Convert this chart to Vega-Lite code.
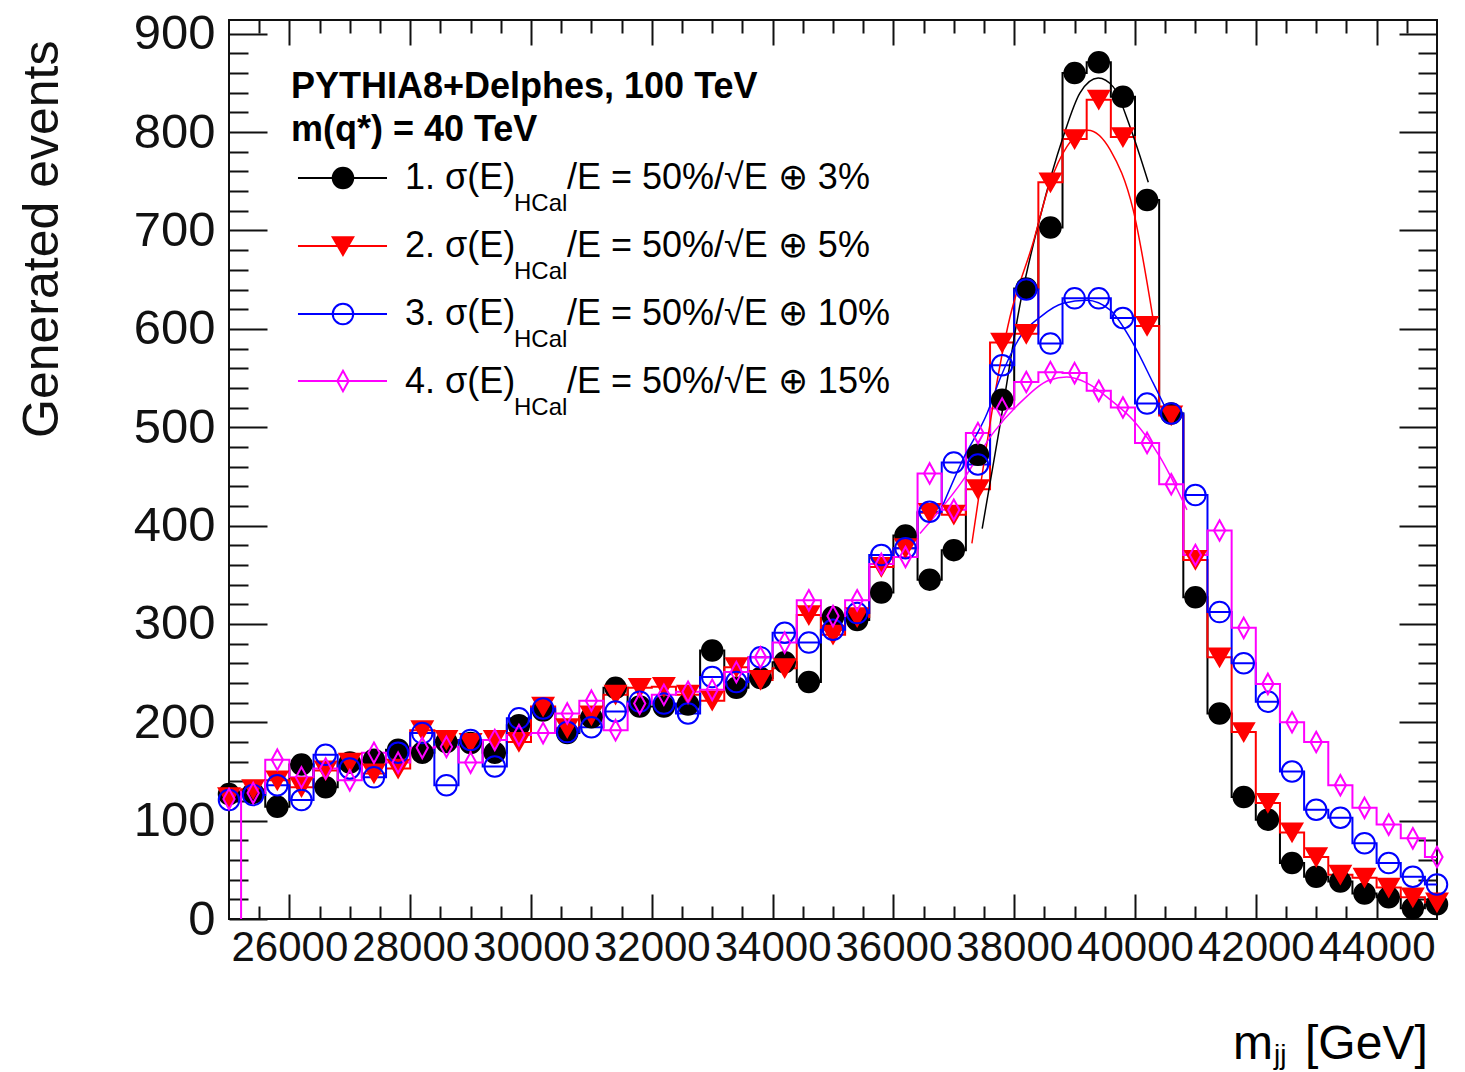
{
  "$schema": "https://vega.github.io/schema/vega-lite/v6.json",
  "width": 1208,
  "height": 899,
  "autosize": {"type": "none"},
  "padding": {"left": 229, "top": 20, "right": 28, "bottom": 153},
  "background": "white",
  "datasets": {
    "hist": [
      {"m": 25000, "h1": 127, "h2": 124, "h3": 121, "h4": 122},
      {"m": 25400, "h1": 128, "h2": 132, "h3": 126, "h4": 128},
      {"m": 25800, "h1": 114, "h2": 141, "h3": 136, "h4": 162},
      {"m": 26200, "h1": 157, "h2": 134, "h3": 121, "h4": 144},
      {"m": 26600, "h1": 134, "h2": 151, "h3": 167, "h4": 153},
      {"m": 27000, "h1": 159, "h2": 159, "h3": 153, "h4": 141},
      {"m": 27400, "h1": 162, "h2": 148, "h3": 144, "h4": 169},
      {"m": 27800, "h1": 172, "h2": 153, "h3": 169, "h4": 159},
      {"m": 28200, "h1": 169, "h2": 192, "h3": 189, "h4": 174},
      {"m": 28600, "h1": 180, "h2": 182, "h3": 136, "h4": 175},
      {"m": 29000, "h1": 179, "h2": 179, "h3": 182, "h4": 159},
      {"m": 29400, "h1": 169, "h2": 182, "h3": 155, "h4": 182},
      {"m": 29800, "h1": 197, "h2": 180, "h3": 204, "h4": 187},
      {"m": 30200, "h1": 212, "h2": 216, "h3": 214, "h4": 189},
      {"m": 30600, "h1": 189, "h2": 194, "h3": 190, "h4": 209},
      {"m": 31000, "h1": 205, "h2": 207, "h3": 195, "h4": 222},
      {"m": 31400, "h1": 235, "h2": 228, "h3": 211, "h4": 192},
      {"m": 31800, "h1": 216, "h2": 235, "h3": 221, "h4": 219},
      {"m": 32200, "h1": 216, "h2": 236, "h3": 219, "h4": 228},
      {"m": 32600, "h1": 218, "h2": 228, "h3": 209, "h4": 231},
      {"m": 33000, "h1": 273, "h2": 222, "h3": 246, "h4": 233},
      {"m": 33400, "h1": 235, "h2": 256, "h3": 241, "h4": 251},
      {"m": 33800, "h1": 245, "h2": 243, "h3": 266, "h4": 266},
      {"m": 34200, "h1": 261, "h2": 255, "h3": 291, "h4": 281},
      {"m": 34600, "h1": 241, "h2": 309, "h3": 281, "h4": 324},
      {"m": 35000, "h1": 307, "h2": 289, "h3": 294, "h4": 308},
      {"m": 35400, "h1": 304, "h2": 307, "h3": 311, "h4": 324},
      {"m": 35800, "h1": 332, "h2": 358, "h3": 370, "h4": 361},
      {"m": 36200, "h1": 390, "h2": 377, "h3": 377, "h4": 368},
      {"m": 36600, "h1": 345, "h2": 413, "h3": 414, "h4": 453},
      {"m": 37000, "h1": 375, "h2": 411, "h3": 464, "h4": 416},
      {"m": 37400, "h1": 472, "h2": 437, "h3": 462, "h4": 494},
      {"m": 37800, "h1": 528, "h2": 586, "h3": 563, "h4": 519},
      {"m": 38200, "h1": 641, "h2": 595, "h3": 640, "h4": 546},
      {"m": 38600, "h1": 703, "h2": 749, "h3": 585, "h4": 556},
      {"m": 39000, "h1": 860, "h2": 793, "h3": 631, "h4": 555},
      {"m": 39400, "h1": 871, "h2": 833, "h3": 631, "h4": 537},
      {"m": 39800, "h1": 836, "h2": 795, "h3": 611, "h4": 520},
      {"m": 40200, "h1": 731, "h2": 603, "h3": 524, "h4": 484},
      {"m": 40600, "h1": 514, "h2": 512, "h3": 514, "h4": 442},
      {"m": 41000, "h1": 327, "h2": 365, "h3": 431, "h4": 370},
      {"m": 41400, "h1": 209, "h2": 266, "h3": 312, "h4": 395},
      {"m": 41800, "h1": 124, "h2": 190, "h3": 260, "h4": 296},
      {"m": 42200, "h1": 101, "h2": 118, "h3": 221, "h4": 239},
      {"m": 42600, "h1": 57, "h2": 88, "h3": 150, "h4": 200},
      {"m": 43000, "h1": 43, "h2": 63, "h3": 111, "h4": 180},
      {"m": 43400, "h1": 38, "h2": 45, "h3": 103, "h4": 136},
      {"m": 43800, "h1": 26, "h2": 42, "h3": 77, "h4": 113},
      {"m": 44200, "h1": 22, "h2": 32, "h3": 57, "h4": 96},
      {"m": 44600, "h1": 11, "h2": 22, "h3": 43, "h4": 82},
      {"m": 45000, "h1": 15, "h2": 17, "h3": 35, "h4": 63}
    ],
    "fit": [
      {"s": "h1", "m": 37470, "n": 397}, {"s": "h1", "m": 37770, "n": 504}, {"s": "h1", "m": 38100, "n": 626},
      {"s": "h1", "m": 38430, "n": 714}, {"s": "h1", "m": 38810, "n": 795}, {"s": "h1", "m": 39090, "n": 840},
      {"s": "h1", "m": 39390, "n": 855}, {"s": "h1", "m": 39640, "n": 846}, {"s": "h1", "m": 39920, "n": 805},
      {"s": "h1", "m": 40220, "n": 749},
      {"s": "h2", "m": 37300, "n": 382}, {"s": "h2", "m": 37930, "n": 612}, {"s": "h2", "m": 38310, "n": 687},
      {"s": "h2", "m": 38590, "n": 748}, {"s": "h2", "m": 38870, "n": 785}, {"s": "h2", "m": 39220, "n": 802},
      {"s": "h2", "m": 39590, "n": 782}, {"s": "h2", "m": 39970, "n": 721}, {"s": "h2", "m": 40300, "n": 610},
      {"s": "h3", "m": 36800, "n": 418}, {"s": "h3", "m": 37150, "n": 467}, {"s": "h3", "m": 37550, "n": 514},
      {"s": "h3", "m": 37770, "n": 550}, {"s": "h3", "m": 38100, "n": 592}, {"s": "h3", "m": 38430, "n": 612},
      {"s": "h3", "m": 38810, "n": 626}, {"s": "h3", "m": 39200, "n": 629}, {"s": "h3", "m": 39590, "n": 619},
      {"s": "h3", "m": 39970, "n": 585}, {"s": "h3", "m": 40300, "n": 545}, {"s": "h3", "m": 40630, "n": 504},
      {"s": "h4", "m": 36440, "n": 392}, {"s": "h4", "m": 37150, "n": 446}, {"s": "h4", "m": 37650, "n": 494},
      {"s": "h4", "m": 38100, "n": 525}, {"s": "h4", "m": 38590, "n": 548}, {"s": "h4", "m": 38870, "n": 551},
      {"s": "h4", "m": 39200, "n": 545}, {"s": "h4", "m": 39590, "n": 528}, {"s": "h4", "m": 39970, "n": 507},
      {"s": "h4", "m": 40410, "n": 470}, {"s": "h4", "m": 40860, "n": 416}
    ],
    "leg": [
      {"s": "h1", "m1": 26142, "m2": 27616, "mc": 26887, "n": 753.4},
      {"s": "h2", "m1": 26142, "m2": 27616, "mc": 26887, "n": 684.2},
      {"s": "h3", "m1": 26142, "m2": 27616, "mc": 26887, "n": 615.1},
      {"s": "h4", "m1": 26142, "m2": 27616, "mc": 26887, "n": 547.0}
    ],
    "head": [
      {"m": 26026, "n": 834.7, "t": "PYTHIA8+Delphes, 100 TeV"},
      {"m": 26026, "n": 791.0, "t": "m(q*) = 40 TeV"}
    ],
    "entry": [
      {"m": 27914, "n": 742.2, "t": "1. σ(E)"},
      {"m": 27914, "n": 673.1, "t": "2. σ(E)"},
      {"m": 27914, "n": 603.9, "t": "3. σ(E)"},
      {"m": 27914, "n": 534.8, "t": "4. σ(E)"},
      {"m": 30596, "n": 742.2, "t": "/E = 50%/√E ⊕ 3%"},
      {"m": 30596, "n": 673.1, "t": "/E = 50%/√E ⊕ 5%"},
      {"m": 30596, "n": 603.9, "t": "/E = 50%/√E ⊕ 10%"},
      {"m": 30596, "n": 534.8, "t": "/E = 50%/√E ⊕ 15%"}
    ],
    "sub": [
      {"m": 29719, "n": 719.9, "t": "HCal"},
      {"m": 29719, "n": 650.8, "t": "HCal"},
      {"m": 29719, "n": 581.7, "t": "HCal"},
      {"m": 29719, "n": 512.5, "t": "HCal"}
    ],
    "xt": [
      {"m": 41623, "n": -142.4, "t": "m"},
      {"m": 42815, "n": -142.4, "t": "[GeV]"}
    ],
    "xts": [
      {"m": 42301, "n": -147.5, "t": "jj"}
    ],
    "edge": [
      {"m": 25200, "n0": 0, "n1": 130}
    ]
  },
  "layer": [
    {
      "data": {"name": "hist"},
      "transform": [{"fold": ["h1", "h2", "h3", "h4"], "as": ["s", "n"]}],
      "mark": {"type": "line", "interpolate": "step", "strokeWidth": 2, "clip": true},
      "encoding": {
        "x": {"field": "m", "type": "quantitative",
              "scale": {"domain": [25000, 45000], "nice": false, "zero": false},
              "axis": {"orient": "bottom", "values": [26000, 28000, 30000, 32000, 34000, 36000, 38000, 40000, 42000, 44000],
                       "tickSize": -25, "labelFontSize": 42, "labelPadding": 33, "labelOverlap": false, "labelFlush": false,
                       "format": "d", "title": null}},
        "y": {"field": "n", "type": "quantitative",
              "scale": {"domain": [0, 914], "nice": false, "zero": false},
              "axis": {"orient": "left", "values": [0, 100, 200, 300, 400, 500, 600, 700, 800, 900],
                       "tickSize": -38, "labelFontSize": 49, "labelPadding": 52, "labelOverlap": false, "labelFlush": false,
                       "format": "d", "title": "Generated events", "titleFontSize": 50, "titleFontWeight": "normal",
                       "titleAngle": 270, "titleAlign": "right", "titleBaseline": "middle", "titleX": -187, "titleY": 20,
                       "titleAnchor": null}},
        "color": {"field": "s", "type": "nominal",
                  "scale": {"domain": ["h1", "h2", "h3", "h4"], "range": ["#000000", "#ff0000", "#0000ff", "#ff00ff"]},
                  "legend": null}
      }
    },
    {
      "data": {"name": "fit"},
      "mark": {"type": "line", "interpolate": "monotone", "strokeWidth": 1.5},
      "encoding": {
        "x": {"field": "m", "type": "quantitative",
              "axis": {"orient": "bottom", "values": [25500, 26500, 27000, 27500, 28500, 29000, 29500, 30500, 31000, 31500, 32500, 33000, 33500, 34500, 35000, 35500, 36500, 37000, 37500, 38500, 39000, 39500, 40500, 41000, 41500, 42500, 43000, 43500, 44500],
                       "tickSize": -13, "labels": false, "title": null}},
        "y": {"field": "n", "type": "quantitative",
              "axis": {"orient": "left", "values": [20, 40, 60, 80, 120, 140, 160, 180, 220, 240, 260, 280, 320, 340, 360, 380, 420, 440, 460, 480, 520, 540, 560, 580, 620, 640, 660, 680, 720, 740, 760, 780, 820, 840, 860, 880],
                       "tickSize": -19, "labels": false, "title": null}},
        "color": {"field": "s", "type": "nominal", "legend": null}
      }
    },
    {
      "data": {"name": "edge"},
      "mark": {"type": "rule", "color": "#ff00ff", "strokeWidth": 2},
      "encoding": {
        "x": {"field": "m", "type": "quantitative",
              "axis": {"orient": "top", "values": [26000, 28000, 30000, 32000, 34000, 36000, 38000, 40000, 42000, 44000],
                       "tickSize": -25, "labels": false, "title": null}},
        "y": {"field": "n0", "type": "quantitative",
              "axis": {"orient": "right", "values": [100, 200, 300, 400, 500, 600, 700, 800, 900],
                       "tickSize": -38, "labels": false, "title": null}},
        "y2": {"field": "n1"}
      }
    },
    {
      "data": {"name": "leg"},
      "mark": {"type": "rule", "strokeWidth": 2},
      "encoding": {
        "x": {"field": "m1", "type": "quantitative",
              "axis": {"orient": "top", "values": [25500, 26500, 27000, 27500, 28500, 29000, 29500, 30500, 31000, 31500, 32500, 33000, 33500, 34500, 35000, 35500, 36500, 37000, 37500, 38500, 39000, 39500, 40500, 41000, 41500, 42500, 43000, 43500, 44500],
                       "tickSize": -13, "labels": false, "title": null}},
        "x2": {"field": "m2"},
        "y": {"field": "n", "type": "quantitative",
              "axis": {"orient": "right", "values": [20, 40, 60, 80, 120, 140, 160, 180, 220, 240, 260, 280, 320, 340, 360, 380, 420, 440, 460, 480, 520, 540, 560, 580, 620, 640, 660, 680, 720, 740, 760, 780, 820, 840, 860, 880],
                       "tickSize": -19, "labels": false, "title": null}},
        "color": {"field": "s", "type": "nominal", "legend": null}
      }
    },
    {
      "data": {"name": "hist"},
      "transform": [{"fold": ["h1", "h2", "h3", "h4"], "as": ["s", "n"]}],
      "mark": {"type": "point", "size": 420, "strokeWidth": 2, "opacity": 1},
      "encoding": {
        "x": {"field": "m", "type": "quantitative", "axis": null},
        "y": {"field": "n", "type": "quantitative", "axis": null},
        "shape": {"field": "s", "type": "nominal",
                  "scale": {"domain": ["h1", "h2", "h3", "h4"], "range": ["circle", "triangle-down", "circle", "M0,-1L0.55,0L0,1L-0.55,0Z"]},
                  "legend": null},
        "fill": {"field": "s", "type": "nominal",
                 "scale": {"domain": ["h1", "h2", "h3", "h4"], "range": ["#000000", "#ff0000", "transparent", "transparent"]},
                 "legend": null},
        "stroke": {"field": "s", "type": "nominal",
                   "scale": {"domain": ["h1", "h2", "h3", "h4"], "range": ["#000000", "#ff0000", "#0000ff", "#ff00ff"]},
                   "legend": null}
      }
    },
    {
      "data": {"name": "leg"},
      "mark": {"type": "point", "size": 420, "strokeWidth": 2, "opacity": 1},
      "encoding": {
        "x": {"field": "mc", "type": "quantitative", "axis": null},
        "y": {"field": "n", "type": "quantitative", "axis": null},
        "shape": {"field": "s", "type": "nominal", "legend": null},
        "fill": {"field": "s", "type": "nominal", "legend": null},
        "stroke": {"field": "s", "type": "nominal", "legend": null}
      }
    },
    {
      "data": {"name": "head"},
      "mark": {"type": "text", "align": "left", "baseline": "alphabetic", "fontSize": 36, "fontWeight": "bold", "font": "Liberation Sans", "color": "black"},
      "encoding": {
        "x": {"field": "m", "type": "quantitative", "axis": null},
        "y": {"field": "n", "type": "quantitative", "axis": null},
        "text": {"field": "t"}
      }
    },
    {
      "data": {"name": "entry"},
      "mark": {"type": "text", "align": "left", "baseline": "alphabetic", "fontSize": 36, "font": "Liberation Sans", "color": "black"},
      "encoding": {
        "x": {"field": "m", "type": "quantitative", "axis": null},
        "y": {"field": "n", "type": "quantitative", "axis": null},
        "text": {"field": "t"}
      }
    },
    {
      "data": {"name": "sub"},
      "mark": {"type": "text", "align": "left", "baseline": "alphabetic", "fontSize": 24, "font": "Liberation Sans", "color": "black"},
      "encoding": {
        "x": {"field": "m", "type": "quantitative", "axis": null},
        "y": {"field": "n", "type": "quantitative", "axis": null},
        "text": {"field": "t"}
      }
    },
    {
      "data": {"name": "xt"},
      "mark": {"type": "text", "align": "left", "baseline": "alphabetic", "fontSize": 48, "font": "Liberation Sans", "color": "black"},
      "encoding": {
        "x": {"field": "m", "type": "quantitative", "axis": null},
        "y": {"field": "n", "type": "quantitative", "axis": null},
        "text": {"field": "t"}
      }
    },
    {
      "data": {"name": "xts"},
      "mark": {"type": "text", "align": "left", "baseline": "alphabetic", "fontSize": 28, "font": "Liberation Sans", "color": "black"},
      "encoding": {
        "x": {"field": "m", "type": "quantitative", "axis": null},
        "y": {"field": "n", "type": "quantitative", "axis": null},
        "text": {"field": "t"}
      }
    }
  ],
  "resolve": {"axis": {"x": "independent", "y": "independent"}},
  "config": {
    "view": {"stroke": "#111111", "strokeWidth": 2},
    "axis": {"domain": false, "grid": false, "tickColor": "#111111", "tickWidth": 2,
             "labelFont": "Liberation Sans", "labelColor": "#111111", "titleFont": "Liberation Sans", "titleColor": "#111111"}
  }
}
